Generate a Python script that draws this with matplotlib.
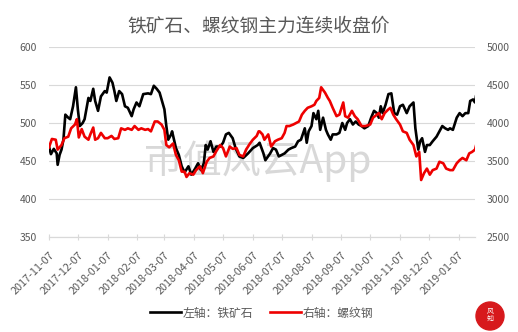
import numpy as np
import pandas as pd
import matplotlib
matplotlib.use("Agg")
import matplotlib.pyplot as plt
import matplotlib.dates as mdates
from matplotlib.patches import Ellipse

plt.rcParams['font.family'] = ['Noto Sans CJK SC', 'DejaVu Sans']

# Data (days counted from 2017-11-07)
start_date = "2017-11-07"
title = "铁矿石、螺纹钢主力连续收盘价"
ore_label = "左轴：铁矿石"
rebar_label = "右轴：螺纹钢"

ore_days = [0, 2, 5, 8, 9, 11, 13, 15, 17, 20, 22, 25, 28, 30, 32, 35, 37, 41, 43, 46,
            48, 51, 54, 58, 60, 63, 66, 68, 70, 73, 76, 79, 82, 86, 88, 91, 94, 98, 103, 106,
            109, 112, 115, 118, 120, 122, 124, 127, 128, 130, 132, 135, 138, 141, 145, 148, 152, 155, 158, 161,
            163, 165, 168, 171, 174, 178, 181, 184, 187, 191, 194, 198, 202, 207, 212, 217,
            219, 223, 225, 230, 233, 236, 239, 242, 245, 249, 252, 256, 259, 262, 266, 268, 270, 273, 275, 278,
            280, 282, 285, 288, 290, 293, 295, 299, 302, 305, 308, 310, 313, 316, 319, 322, 325, 328, 332, 335,
            338, 341, 343, 345, 347, 350, 353, 356, 359, 362, 365, 368, 372, 375, 379, 381, 384, 386, 388, 391,
            393, 396, 399, 403, 406, 409, 412, 415, 417, 420, 424, 427, 430, 433, 436, 438, 441, 443, 444]
ore_close = [469, 459, 466, 460, 445, 458, 465, 478, 511, 507, 505, 522, 547, 518, 496, 500, 505, 533, 529, 545,
             529, 516, 535, 542, 540, 560, 553, 542, 529, 542, 538, 522, 520, 509, 518, 527, 522, 538, 539, 538,
             549, 545, 540, 527, 518, 496, 478, 485, 489, 478, 467, 458, 443, 435, 443, 432, 440, 447, 438, 447,
             471, 465, 476, 462, 469, 469, 474, 485, 487, 480, 467, 456, 454, 460, 467, 471,
             474, 460, 451, 460, 467, 465, 456, 458, 460, 465, 467, 469, 476, 478, 493, 474, 489, 496, 513, 505,
             516, 491, 507, 491, 485, 478, 485, 485, 487, 500, 491, 500, 505, 498, 502, 498, 496, 493, 496, 507,
             516, 513, 507, 522, 513, 524, 538, 539, 513, 511, 522, 524, 513, 522, 527, 493, 465, 476, 480, 462,
             471, 471, 476, 482, 489, 496, 493, 491, 493, 491, 507, 513, 509, 513, 513, 529, 531, 527, 535]

rebar_days = [0, 3, 7, 9, 13, 16, 20, 23, 27, 29, 31, 34, 37, 41, 43, 46, 48, 51, 54, 58,
              61, 65, 68, 72, 75, 79, 82, 86, 89, 93, 96, 100, 103, 106, 110, 113, 117, 120, 122, 125,
              129, 132, 135, 138, 141, 143, 146, 150, 153, 157, 160, 164, 167, 171, 174, 178, 181, 184, 188, 191,
              195, 198, 202, 205, 209, 212, 216, 218,
              219, 222, 224, 228, 231, 235, 238, 242, 245, 247, 250, 254, 257, 260, 263, 266, 269, 273, 276, 278,
              281, 283, 287, 290, 292, 295, 299, 302, 306, 308, 311, 315, 318, 321, 325, 329, 334, 337, 341, 343,
              346, 349, 353, 355, 358, 361, 365, 368, 372, 375, 379, 382, 385, 387, 390, 393, 396, 399, 403, 406,
              410, 413, 417, 420, 424, 427, 430, 434, 437, 440, 443, 444]
rebar_close = [3680, 3790, 3780, 3650, 3710, 3800, 3820, 3930, 3980, 4050, 3810, 3920, 3820, 3780, 3850, 3940, 3780, 3800, 3870, 3800,
               3800, 3830, 3790, 3800, 3930, 3910, 3930, 3910, 3960, 3910, 3930, 3910, 3920, 3890, 4020, 4020, 3980, 3910, 3710, 3680,
               3730, 3580, 3510, 3360, 3360, 3290, 3340, 3320, 3380, 3430, 3340, 3490, 3540, 3560, 3630, 3710, 3670, 3560, 3690, 3660,
               3670, 3580, 3560, 3650, 3730, 3780, 3830, 3890,
               3890, 3850, 3780, 3850, 3690, 3760, 3780, 3800, 3870, 3960, 3960, 3980, 4000, 4020, 4110, 4160, 4200, 4220, 4240, 4290,
               4330, 4470, 4400, 4330, 4290, 4200, 4090, 4110, 4270, 4090, 4070, 4160, 4090, 4050, 3960, 3960, 3980, 4070, 4110, 4130,
               4050, 4130, 4180, 4200, 4110, 4050, 3980, 3890, 3870, 3780, 3710, 3560, 3620, 3250, 3340, 3400, 3320, 3380, 3400, 3490,
               3470, 3400, 3380, 3380, 3470, 3510, 3540, 3510, 3600, 3620, 3650, 3700]

base = pd.Timestamp(start_date)
ore_dates = base + pd.to_timedelta(ore_days, unit="D")
rebar_dates = base + pd.to_timedelta(rebar_days, unit="D")

grey = "#595959"
grid = "#d9d9d9"

fig = plt.figure(figsize=(5.18, 3.32), dpi=100)
ax = fig.add_axes([49 / 518, 1 - 237 / 332, 426 / 518, 190 / 332])
ax2 = ax.twinx()

ax.plot(ore_dates, ore_close, color="black", lw=1.9, label=ore_label)
ax2.plot(rebar_dates, rebar_close, color="#ee0000", lw=1.9, label=rebar_label)

ax.set_ylim(350, 600)
ax.set_yticks(np.arange(350, 601, 50))
ax2.set_ylim(2500, 5000)
ax2.set_yticks(np.arange(2500, 5001, 500))
ax.set_xlim(base, base + pd.Timedelta(days=443))

ax.grid(axis="y", color=grid, lw=0.8)
ax.set_axisbelow(True)
for a in (ax, ax2):
    for s in ("top", "left", "right"):
        a.spines[s].set_visible(False)
    a.spines["bottom"].set_color(grid)
    a.tick_params(axis="y", length=0, labelsize=7.5, labelcolor=grey, pad=8.5)

ax.xaxis.set_major_locator(mdates.MonthLocator(bymonthday=7))
ax.xaxis.set_major_formatter(mdates.DateFormatter("%Y-%m-%d"))
ax.tick_params(axis="x", direction="inout", length=5, color=grid,
               labelsize=7.8, labelcolor=grey, pad=7)
for lbl in ax.get_xticklabels():
    lbl.set_rotation(45)
    lbl.set_ha("right")
    lbl.set_rotation_mode("anchor")

# watermark
ax.text(0.49, 0.40, "市值风云App", transform=ax.transAxes, fontsize=28,
        color="#c8c8c8", alpha=0.7, ha="center", va="center", zorder=0)

fig.suptitle(title, y=0.955, fontsize=13.5, color=grey)

h1, l1 = ax.get_legend_handles_labels()
h2, l2 = ax2.get_legend_handles_labels()
fig.legend(h1 + h2, l1 + l2, loc="center", bbox_to_anchor=(0.505, 1 - 313 / 332),
           ncol=2, frameon=False, fontsize=8.5, labelcolor=grey,
           handlelength=2.6, columnspacing=1.5, handletextpad=0.1)

# small red logo, bottom right
fig.add_artist(Ellipse((490 / 518, 1 - 316 / 332), 28 / 518, 28 / 332,
                       transform=fig.transFigure, color="#d7191c"))
fig.text(490 / 518, 1 - 316 / 332, "风\n知", color="white", fontsize=5,
         ha="center", va="center", linespacing=0.9)

fig.savefig("out.png", dpi=100)
